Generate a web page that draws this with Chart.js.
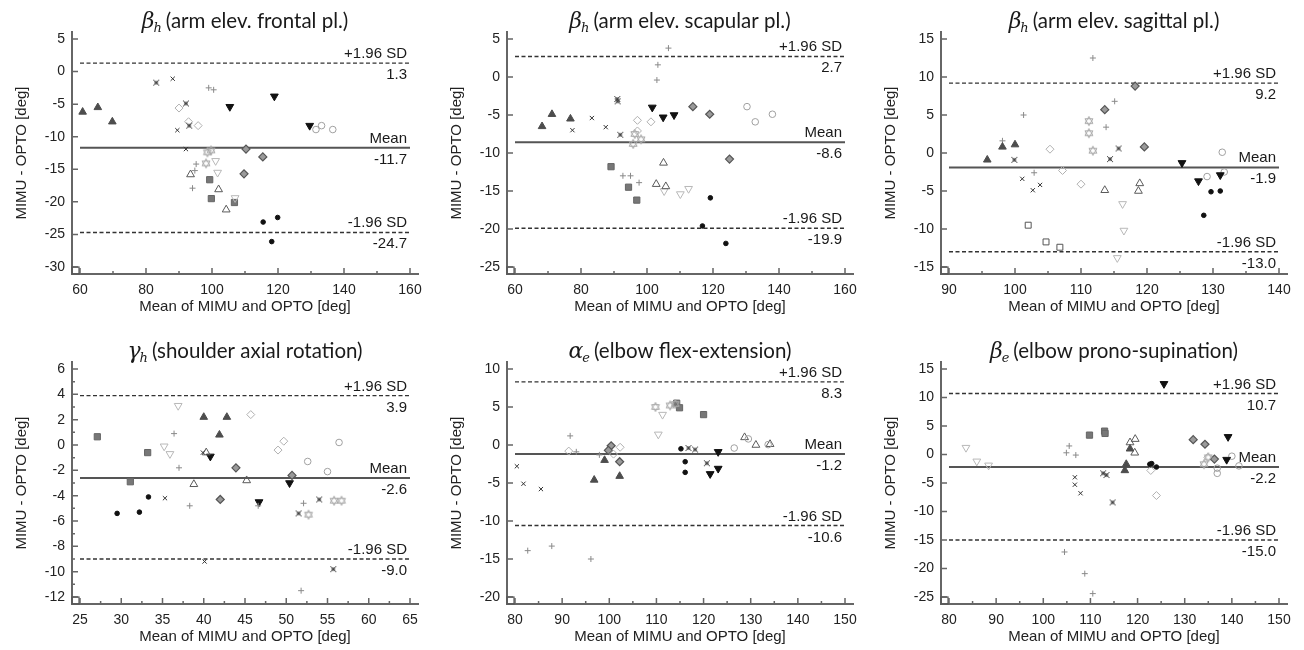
<!DOCTYPE html>
<html lang="en">
<head>
  <meta charset="UTF-8">
  <title>Bland-Altman MIMU vs OPTO</title>
  <script src="https://cdn.jsdelivr.net/npm/chart.js"></script>
  <style>
    body { margin: 0; background: #fff; width: 1304px; height: 650px; position: relative; overflow: hidden; }
    canvas { position: absolute; }
  </style>
</head>
<body>
  <canvas id="c0" width="434" height="320" style="left:0px;top:0px"></canvas>
  <canvas id="c1" width="434" height="320" style="left:435px;top:0px"></canvas>
  <canvas id="c2" width="434" height="320" style="left:869px;top:0px"></canvas>
  <canvas id="c3" width="434" height="320" style="left:0px;top:330px"></canvas>
  <canvas id="c4" width="434" height="320" style="left:435px;top:330px"></canvas>
  <canvas id="c5" width="434" height="320" style="left:869px;top:330px"></canvas>

  <script>
    // titles
    const symbols = ['β', 'β', 'β', 'γ', 'α', 'β'];
    const subs = ['h', 'h', 'h', 'h', 'e', 'e'];
    const names = ['(arm elev. frontal pl.)', '(arm elev. scapular pl.)', '(arm elev. sagittal pl.)',
                   '(shoulder axial rotation)', '(elbow flex-extension)', '(elbow prono-supination)'];

    // tick labels
    const xTicks = [
      [60, 80, 100, 120, 140, 160],
      [60, 80, 100, 120, 140, 160],
      [90, 100, 110, 120, 130, 140],
      [25, 30, 35, 40, 45, 50, 55, 60, 65],
      [80, 90, 100, 110, 120, 130, 140, 150],
      [80, 90, 100, 110, 120, 130, 140, 150]
    ];
    const yTicks = [
      [5, 0, -5, -10, -15, -20, -25, -30],
      [5, 0, -5, -10, -15, -20, -25],
      [15, 10, 5, 0, -5, -10, -15],
      [6, 4, 2, 0, -2, -4, -6, -8, -10, -12],
      [10, 5, 0, -5, -10, -15, -20],
      [15, 10, 5, 0, -5, -10, -15, -20, -25]
    ];
    const yMinor = [false, false, false, true, false, false];

    // +1.96 SD, mean, -1.96 SD
    const limits = [
      [1.3, -11.7, -24.7],
      [2.7, -8.6, -19.9],
      [9.2, -1.9, -13.0],
      [3.9, -2.6, -9.0],
      [8.3, -1.2, -10.6],
      [10.7, -2.2, -15.0]
    ];
    const limitNames = ['+1.96 SD', 'Mean', '-1.96 SD'];

    // points [mean, difference] per subject marker
    const frontal = {
      triFill: [[60.8, -6.2], [65.4, -5.5], [69.8, -7.7]],
      xSq: [[83.1, -1.7], [92.1, -4.9], [93.1, -8.3]],
      cross: [[88.1, -1.1], [89.5, -9.0], [92.1, -11.9]],
      plus: [[99.0, -2.5], [100.5, -2.8], [95.2, -14.2], [94.8, -15.2], [94.1, -17.9]],
      diamondOpen: [[90.0, -5.6], [92.9, -7.7], [95.8, -8.3]],
      hexa: [[98.6, -12.4], [99.7, -12.1], [98.2, -14.1]],
      triDownOpen: [[101.1, -13.7], [101.7, -15.5], [107.0, -19.4]],
      triUpOpen: [[93.5, -15.8], [102.0, -18.1], [104.3, -21.2]],
      squareFill: [[99.3, -16.6], [99.8, -19.5], [106.8, -20.1]],
      diamondFill: [[110.3, -11.9], [115.4, -13.1], [109.7, -15.7]],
      triDownFill: [[105.4, -5.4], [118.9, -3.8], [129.6, -8.3]],
      dot: [[115.5, -23.1], [119.9, -22.4], [118.1, -26.1]],
      circleOpen: [[131.5, -8.9], [133.2, -8.3], [136.6, -8.9]]
    };
    const scapular = {
      triFill: [[68.2, -6.5], [71.2, -4.9], [76.8, -5.5]],
      cross: [[77.4, -7.0], [83.3, -5.4], [87.5, -6.6]],
      xSq: [[91.0, -2.9], [91.1, -3.2], [91.9, -7.6]],
      plus: [[106.5, 3.8], [103.3, 1.6], [103.0, -0.4], [92.7, -13.0], [95.0, -13.0], [97.6, -13.9]],
      diamondOpen: [[97.1, -5.7], [101.2, -5.9], [97.1, -7.1]],
      hexa: [[96.3, -7.5], [98.2, -8.2], [95.8, -8.8]],
      triDownFill: [[101.6, -4.0], [104.9, -5.3], [108.2, -5.0]],
      diamondFill: [[113.9, -3.9], [119.0, -4.9], [125.0, -10.8]],
      circleOpen: [[130.3, -3.9], [132.8, -5.9], [138.0, -4.9]],
      squareFill: [[89.1, -11.8], [94.4, -14.5], [96.9, -16.2]],
      triUpOpen: [[105.0, -11.3], [102.8, -14.1], [105.7, -14.4]],
      triDownOpen: [[105.2, -15.0], [110.1, -15.4], [112.6, -14.7]],
      dot: [[119.2, -15.9], [116.8, -19.6], [123.9, -21.9]]
    };
    const sagittal = {
      triFill: [[95.8, -0.9], [98.1, 0.8], [100.0, 1.1]],
      plus: [[98.1, 1.6], [101.3, 5.0], [102.9, -2.6], [111.8, 12.5], [115.1, 6.8], [113.8, 3.4]],
      xSq: [[99.9, -0.9], [114.4, -0.8], [115.7, 0.6]],
      cross: [[101.1, -3.4], [102.7, -4.9], [103.8, -4.2]],
      diamondOpen: [[105.3, 0.5], [107.2, -2.3], [110.0, -4.1]],
      hexa: [[111.2, 4.2], [111.2, 2.6], [111.8, 0.3]],
      diamondFill: [[113.6, 5.7], [118.2, 8.8], [119.6, 0.8]],
      triUpOpen: [[113.6, -4.9], [118.9, -4.0], [118.7, -5.0]],
      triDownOpen: [[116.3, -6.7], [116.5, -10.2], [115.5, -13.8]],
      squareOpen: [[102.0, -9.5], [104.7, -11.7], [106.8, -12.4]],
      triDownFill: [[125.3, -1.3], [127.8, -3.7], [131.1, -2.9]],
      dot: [[129.7, -5.1], [131.1, -5.0], [128.6, -8.2]],
      circleOpen: [[129.1, -3.1], [131.4, 0.1], [131.7, -2.5]]
    };
    const axial = {
      squareFill: [[27.1, 0.65], [33.2, -0.6], [31.1, -2.9]],
      dot: [[29.5, -5.4], [32.2, -5.3], [33.3, -4.1]],
      triDownOpen: [[36.9, 3.1], [35.2, -0.1], [35.9, -0.7]],
      plus: [[36.4, 0.9], [37.0, -1.8], [38.3, -4.8], [46.6, -4.8], [52.1, -4.6], [51.8, -11.5]],
      cross: [[35.3, -4.2], [39.9, -0.6], [40.1, -9.2]],
      triUpOpen: [[38.8, -3.1], [40.3, -0.6], [45.2, -2.8]],
      triFill: [[40.0, 2.2], [42.8, 2.2], [41.9, 0.8]],
      triDownFill: [[40.8, -0.9], [46.7, -4.5], [50.4, -3.0]],
      diamondFill: [[43.9, -1.8], [42.0, -4.3], [50.7, -2.4]],
      diamondOpen: [[45.7, 2.4], [49.0, -0.4], [49.7, 0.3]],
      circleOpen: [[52.6, -1.3], [55.0, -2.1], [56.4, 0.2]],
      xSq: [[51.5, -5.4], [54.0, -4.3], [55.7, -9.8]],
      hexa: [[52.7, -5.5], [55.8, -4.4], [56.7, -4.4]]
    };
    const flexion = {
      cross: [[80.4, -2.8], [81.8, -5.1], [85.5, -5.8]],
      plus: [[91.7, 1.2], [93.0, -0.9], [97.9, -1.3], [82.7, -13.9], [87.8, -13.3], [96.1, -15.0]],
      diamondOpen: [[91.4, -0.8], [100.9, -1.2], [102.3, -0.3]],
      diamondFill: [[100.4, -0.1], [99.8, -0.7], [102.2, -2.2]],
      triFill: [[99.0, -2.0], [96.8, -4.6], [102.2, -4.1]],
      hexa: [[109.8, 5.0], [112.9, 5.2], [114.0, 5.4]],
      triDownOpen: [[111.3, 4.0], [110.4, 1.4]],
      squareFill: [[114.3, 5.5], [114.9, 4.9], [120.0, 4.0]],
      dot: [[115.2, -0.5], [116.1, -2.2], [116.1, -3.6]],
      xSq: [[116.8, -0.4], [118.2, -0.6], [120.7, -2.4]],
      triDownFill: [[123.1, -0.9], [121.4, -3.8], [123.1, -3.1]],
      circleOpen: [[126.5, -0.4], [129.5, 0.8], [133.7, 0.05]],
      triUpOpen: [[128.7, 1.0], [131.1, 0.0], [134.1, 0.1]]
    };
    const pronation = {
      triDownOpen: [[83.6, 1.2], [85.9, -1.2], [88.4, -1.9]],
      plus: [[104.9, 0.3], [105.5, 1.5], [106.9, -0.1], [104.5, -17.1], [108.8, -20.9], [110.5, -24.4]],
      cross: [[106.7, -4.0], [106.7, -5.3], [107.9, -6.8]],
      xSq: [[112.7, -3.3], [113.4, -3.6], [114.7, -8.4]],
      squareFill: [[109.8, 3.4], [113.0, 4.1], [113.1, 3.7]],
      triFill: [[117.6, -1.7], [117.3, -2.8], [118.4, 1.0]],
      triUpOpen: [[118.4, 2.1], [119.5, 2.7], [119.4, 0.3]],
      dot: [[122.6, -1.7], [123.0, -1.6], [124.0, -2.2]],
      diamondOpen: [[122.8, -2.8], [124.0, -7.2], [134.9, -0.5]],
      triDownFill: [[125.6, 12.4], [139.2, 3.1], [138.9, -0.9]],
      diamondFill: [[131.8, 2.6], [134.3, 1.8], [136.3, -0.8]],
      hexa: [[134.1, -1.7], [135.0, -0.5]],
      circleOpen: [[136.9, -2.4], [136.9, -3.3], [140.0, -0.3], [141.5, -2.0]]
    };
    const panels = [frontal, scapular, sagittal, axial, flexion, pronation];

    // custom marker images
    function hexagram() {
      const c = document.createElement('canvas');
      c.width = c.height = 12;
      const g = c.getContext('2d');
      g.strokeStyle = '#a8a8a8';
      g.lineWidth = 1;
      for (const a0 of [-90, 90]) {
        g.beginPath();
        for (let k = 0; k < 3; k++) {
          const a = (a0 + k * 120) * Math.PI / 180;
          const px = 6 + 4.6 * Math.cos(a), py = 6 + 4.6 * Math.sin(a);
          if (k) g.lineTo(px, py); else g.moveTo(px, py);
        }
        g.closePath();
        g.stroke();
      }
      return c;
    }
    function xSquare() {
      const c = document.createElement('canvas');
      c.width = c.height = 8;
      const g = c.getContext('2d');
      g.fillStyle = '#333';
      g.fillRect(2.5, 2.5, 3, 3);
      g.strokeStyle = '#444';
      g.lineWidth = 1;
      g.beginPath();
      g.moveTo(1, 1); g.lineTo(7, 7);
      g.moveTo(7, 1); g.lineTo(1, 7);
      g.stroke();
      return c;
    }

    const none = 'rgba(0,0,0,0)';
    const markers = {
      triFill: { style: 'triangle', r: 4.4, bg: '#4d4d4d', bc: '#4d4d4d', bw: 1 },
      cross: { style: 'crossRot', r: 3, bg: none, bc: '#333', bw: 1 },
      xSq: { style: xSquare(), r: 4, bg: none, bc: '#333', bw: 1 },
      plus: { style: 'cross', r: 3, bg: none, bc: '#8a8a8a', bw: 1 },
      diamondOpen: { style: 'rectRot', r: 4, bg: none, bc: '#b0b0b0', bw: 1 },
      diamondFill: { style: 'rectRot', r: 4, bg: '#9a9a9a', bc: '#555', bw: 1.2 },
      hexa: { style: hexagram(), r: 5, bg: none, bc: '#aaa', bw: 1 },
      triDownOpen: { style: 'triangle', r: 4.5, rot: 180, bg: none, bc: '#b8b8b8', bw: 1 },
      triUpOpen: { style: 'triangle', r: 4.5, bg: none, bc: '#5a5a5a', bw: 1 },
      squareFill: { style: 'rect', r: 4.4, bg: '#777', bc: '#666', bw: 1 },
      squareOpen: { style: 'rect', r: 4.2, bg: none, bc: '#555', bw: 1 },
      triDownFill: { style: 'triangle', r: 4.5, rot: 180, bg: '#111', bc: '#111', bw: 1 },
      dot: { style: 'circle', r: 2.3, bg: '#111', bc: '#111', bw: 1 },
      circleOpen: { style: 'circle', r: 3.3, bg: none, bc: '#a0a0a0', bw: 1 }
    };

    const tickFont = { family: '"Liberation Sans", Arial, sans-serif', size: 14 };
    const titleFont = { family: '"Liberation Sans", Arial, sans-serif', size: 15 };

    const decor = {
      id: 'decor',
      afterDraw(chart, args, opts) {
        const ctx = chart.ctx, a = chart.chartArea, i = opts.index;
        const xs = chart.scales.x, ys = chart.scales.y;
        const xt = xTicks[i], yt = yTicks[i];
        ctx.save();
        // inward ticks
        ctx.strokeStyle = '#666';
        ctx.lineWidth = 1.5;
        ctx.beginPath();
        xt.forEach((v, k) => {
          const px = xs.getPixelForValue(v);
          ctx.moveTo(px, a.bottom); ctx.lineTo(px, a.bottom - 6);
          if (k > 0) {
            const m = xs.getPixelForValue((v + xt[k - 1]) / 2);
            ctx.moveTo(m, a.bottom); ctx.lineTo(m, a.bottom - 3);
          }
        });
        yt.forEach((v, k) => {
          const py = ys.getPixelForValue(v);
          ctx.moveTo(a.left, py); ctx.lineTo(a.left + 6, py);
          if (k > 0 && yMinor[i]) {
            const m = ys.getPixelForValue((v + yt[k - 1]) / 2);
            ctx.moveTo(a.left, m); ctx.lineTo(a.left + 3, m);
          }
        });
        ctx.stroke();
        // little box in the corner
        ctx.lineWidth = 1.2;
        ctx.strokeStyle = '#555';
        ctx.strokeRect(a.left, a.bottom - 7, 7, 7);

        // limit labels
        ctx.fillStyle = '#1a1a1a';
        ctx.font = '15px "Liberation Sans", Arial, sans-serif';
        ctx.textAlign = 'right';
        ctx.textBaseline = 'alphabetic';
        const lx = xs.getPixelForValue(xt[xt.length - 1]) - 3;
        limits[i].forEach((v, j) => {
          const py = ys.getPixelForValue(v);
          ctx.fillText(limitNames[j], lx, py - 5);
          ctx.fillText(v.toFixed(1), lx, py + 16);
        });

        // title with greek symbol and subscript
        const cx = (a.left + a.right) / 2, by = 28;
        ctx.textAlign = 'left';
        ctx.font = 'italic 22px "DejaVu Serif", serif';
        const w1 = ctx.measureText(symbols[i]).width;
        ctx.font = 'italic 13px "DejaVu Serif", serif';
        const w2 = ctx.measureText(subs[i]).width;
        ctx.font = '20.5px Lato, "Open Sans", sans-serif';
        const w3 = ctx.measureText(names[i]).width;
        const x0 = cx - (w1 + w2 + 3 + w3) / 2;
        ctx.fillStyle = '#1a1a1a';
        ctx.font = 'italic 22px "DejaVu Serif", serif';
        ctx.fillText(symbols[i], x0, by);
        ctx.font = 'italic 13px "DejaVu Serif", serif';
        ctx.fillText(subs[i], x0 + w1 - 1, by + 4);
        ctx.font = '20.5px Lato, "Open Sans", sans-serif';
        ctx.fillText(names[i], x0 + w1 + w2 + 3, by);
        ctx.restore();
      }
    };

    panels.forEach((panel, i) => {
      const xt = xTicks[i], yt = yTicks[i];
      // area is 346 x 242 px; first/last ticks sit 8 px (x) and 7 px (y) inside
      const xUnit = (346 - 16) / (xt[xt.length - 1] - xt[0]);
      const yUnit = (242 - 14) / (yt[0] - yt[yt.length - 1]);

      const datasets = Object.keys(panel).map(k => {
        const m = markers[k];
        return {
          data: panel[k].map(([x, y]) => ({ x, y })),
          pointStyle: m.style,
          pointRadius: m.r,
          pointRotation: m.rot || 0,
          backgroundColor: m.bg,
          borderColor: m.bc,
          borderWidth: m.bw,
          showLine: false,
          order: 0
        };
      });
      limits[i].forEach((v, j) => {
        datasets.push({
          data: [{ x: xt[0], y: v }, { x: xt[xt.length - 1], y: v }],
          showLine: true,
          borderColor: j === 1 ? '#555' : '#333',
          borderWidth: j === 1 ? 2 : 1.4,
          borderDash: j === 1 ? [] : [4, 2.5],
          pointRadius: 0,
          order: 1
        });
      });

      new Chart(document.getElementById('c' + i), {
        type: 'scatter',
        data: { datasets },
        options: {
          responsive: false,
          animation: false,
          devicePixelRatio: 1,
          layout: { padding: { top: 32, right: 16, left: 0, bottom: 0 } },
          plugins: { legend: { display: false }, tooltip: { enabled: false }, decor: { index: i } },
          scales: {
            x: {
              type: 'linear',
              min: xt[0] - 8 / xUnit,
              max: xt[xt.length - 1] + 8 / xUnit,
              afterBuildTicks: s => { s.ticks = xt.map(v => ({ value: v })); },
              afterFit: s => { s.height = 46; },
              grid: { display: false, drawTicks: false },
              border: { display: true, color: '#666', width: 2 },
              ticks: { font: tickFont, color: '#222', padding: 8, maxRotation: 0, autoSkip: false },
              title: { display: true, text: 'Mean of MIMU and OPTO [deg]', font: titleFont, color: '#222', padding: { top: 0, bottom: 4 } }
            },
            y: {
              type: 'linear',
              min: yt[yt.length - 1] - 7 / yUnit,
              max: yt[0] + 7 / yUnit,
              afterBuildTicks: s => { s.ticks = yt.map(v => ({ value: v })); },
              afterFit: s => { s.width = 72; },
              grid: { display: false, drawTicks: false },
              border: { display: true, color: '#666', width: 2 },
              ticks: { font: tickFont, color: '#222', padding: 7, autoSkip: false },
              title: { display: true, text: 'MIMU - OPTO [deg]', font: titleFont, color: '#222', padding: { top: 13, bottom: 0 } }
            }
          }
        },
        plugins: [decor]
      });
    });
  </script>
</body>
</html>
